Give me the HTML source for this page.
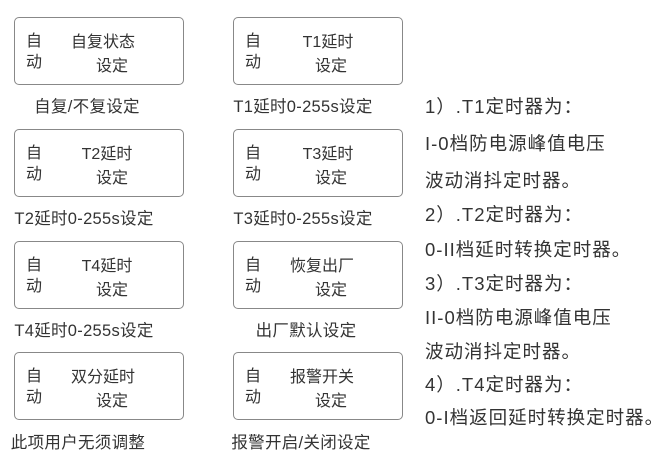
<!DOCTYPE html>
<html><head><meta charset="utf-8"><style>
body{margin:0;width:667px;height:472px;background:#fff;position:relative;overflow:hidden;font-family:"Liberation Sans","Noto Sans CJK SC",sans-serif;color:#333}
.b{position:absolute;width:170px;height:68px;border:1px solid #888;border-radius:5px;box-sizing:border-box}
.t{position:absolute;font-size:16px;line-height:20px;white-space:nowrap}
.l{font-size:16.5px;letter-spacing:0.3px}
.c{transform:translateX(-50%)}
.r{position:absolute;left:425px;font-size:18.5px;letter-spacing:1px;line-height:20px;white-space:nowrap;color:#333}
</style></head><body>
<div class="b" style="left:14px;top:17px"></div>
<div class="t" style="left:26px;top:32px">自</div><div class="t" style="left:26px;top:53px">动</div>
<div class="t c" style="left:103px;top:33px">自复状态</div><div class="t c" style="left:112px;top:57px">设定</div>
<div class="t c l" style="left:87px;top:97px">自复/不复设定</div>

<div class="b" style="left:233px;top:17px"></div>
<div class="t" style="left:245px;top:32px">自</div><div class="t" style="left:245px;top:53px">动</div>
<div class="t c" style="left:328px;top:33px">T1延时</div><div class="t c" style="left:331px;top:57px">设定</div>
<div class="t c l" style="left:303px;top:97px">T1延时0-255s设定</div>

<div class="b" style="left:14px;top:129px"></div>
<div class="t" style="left:26px;top:144px">自</div><div class="t" style="left:26px;top:165px">动</div>
<div class="t c" style="left:107px;top:145px">T2延时</div><div class="t c" style="left:112px;top:169px">设定</div>
<div class="t c l" style="left:84px;top:209px">T2延时0-255s设定</div>

<div class="b" style="left:233px;top:129px"></div>
<div class="t" style="left:245px;top:144px">自</div><div class="t" style="left:245px;top:165px">动</div>
<div class="t c" style="left:328px;top:145px">T3延时</div><div class="t c" style="left:331px;top:169px">设定</div>
<div class="t c l" style="left:303px;top:209px">T3延时0-255s设定</div>

<div class="b" style="left:14px;top:241px"></div>
<div class="t" style="left:26px;top:256px">自</div><div class="t" style="left:26px;top:277px">动</div>
<div class="t c" style="left:107px;top:257px">T4延时</div><div class="t c" style="left:112px;top:281px">设定</div>
<div class="t c l" style="left:84px;top:321px">T4延时0-255s设定</div>

<div class="b" style="left:233px;top:241px"></div>
<div class="t" style="left:245px;top:256px">自</div><div class="t" style="left:245px;top:277px">动</div>
<div class="t c" style="left:322px;top:257px">恢复出厂</div><div class="t c" style="left:331px;top:281px">设定</div>
<div class="t c l" style="left:306px;top:321px">出厂默认设定</div>

<div class="b" style="left:14px;top:352px"></div>
<div class="t" style="left:26px;top:367px">自</div><div class="t" style="left:26px;top:388px">动</div>
<div class="t c" style="left:103px;top:368px">双分延时</div><div class="t c" style="left:112px;top:392px">设定</div>
<div class="t c l" style="left:78px;top:433px">此项用户无须调整</div>

<div class="b" style="left:233px;top:352px"></div>
<div class="t" style="left:245px;top:367px">自</div><div class="t" style="left:245px;top:388px">动</div>
<div class="t c" style="left:322px;top:368px">报警开关</div><div class="t c" style="left:331px;top:392px">设定</div>
<div class="t c l" style="left:301px;top:433px">报警开启/关闭设定</div>

<div class="r" style="top:97px">1）.T1定时器为：</div>
<div class="r" style="top:134px">I-0档防电源峰值电压</div>
<div class="r" style="top:171px">波动消抖定时器。</div>
<div class="r" style="top:205px">2）.T2定时器为：</div>
<div class="r" style="top:240px">0-II档延时转换定时器。</div>
<div class="r" style="top:274px">3）.T3定时器为：</div>
<div class="r" style="top:308px">II-0档防电源峰值电压</div>
<div class="r" style="top:342px">波动消抖定时器。</div>
<div class="r" style="top:375px">4）.T4定时器为：</div>
<div class="r" style="top:408px">0-I档返回延时转换定时器。</div>
</body></html>
